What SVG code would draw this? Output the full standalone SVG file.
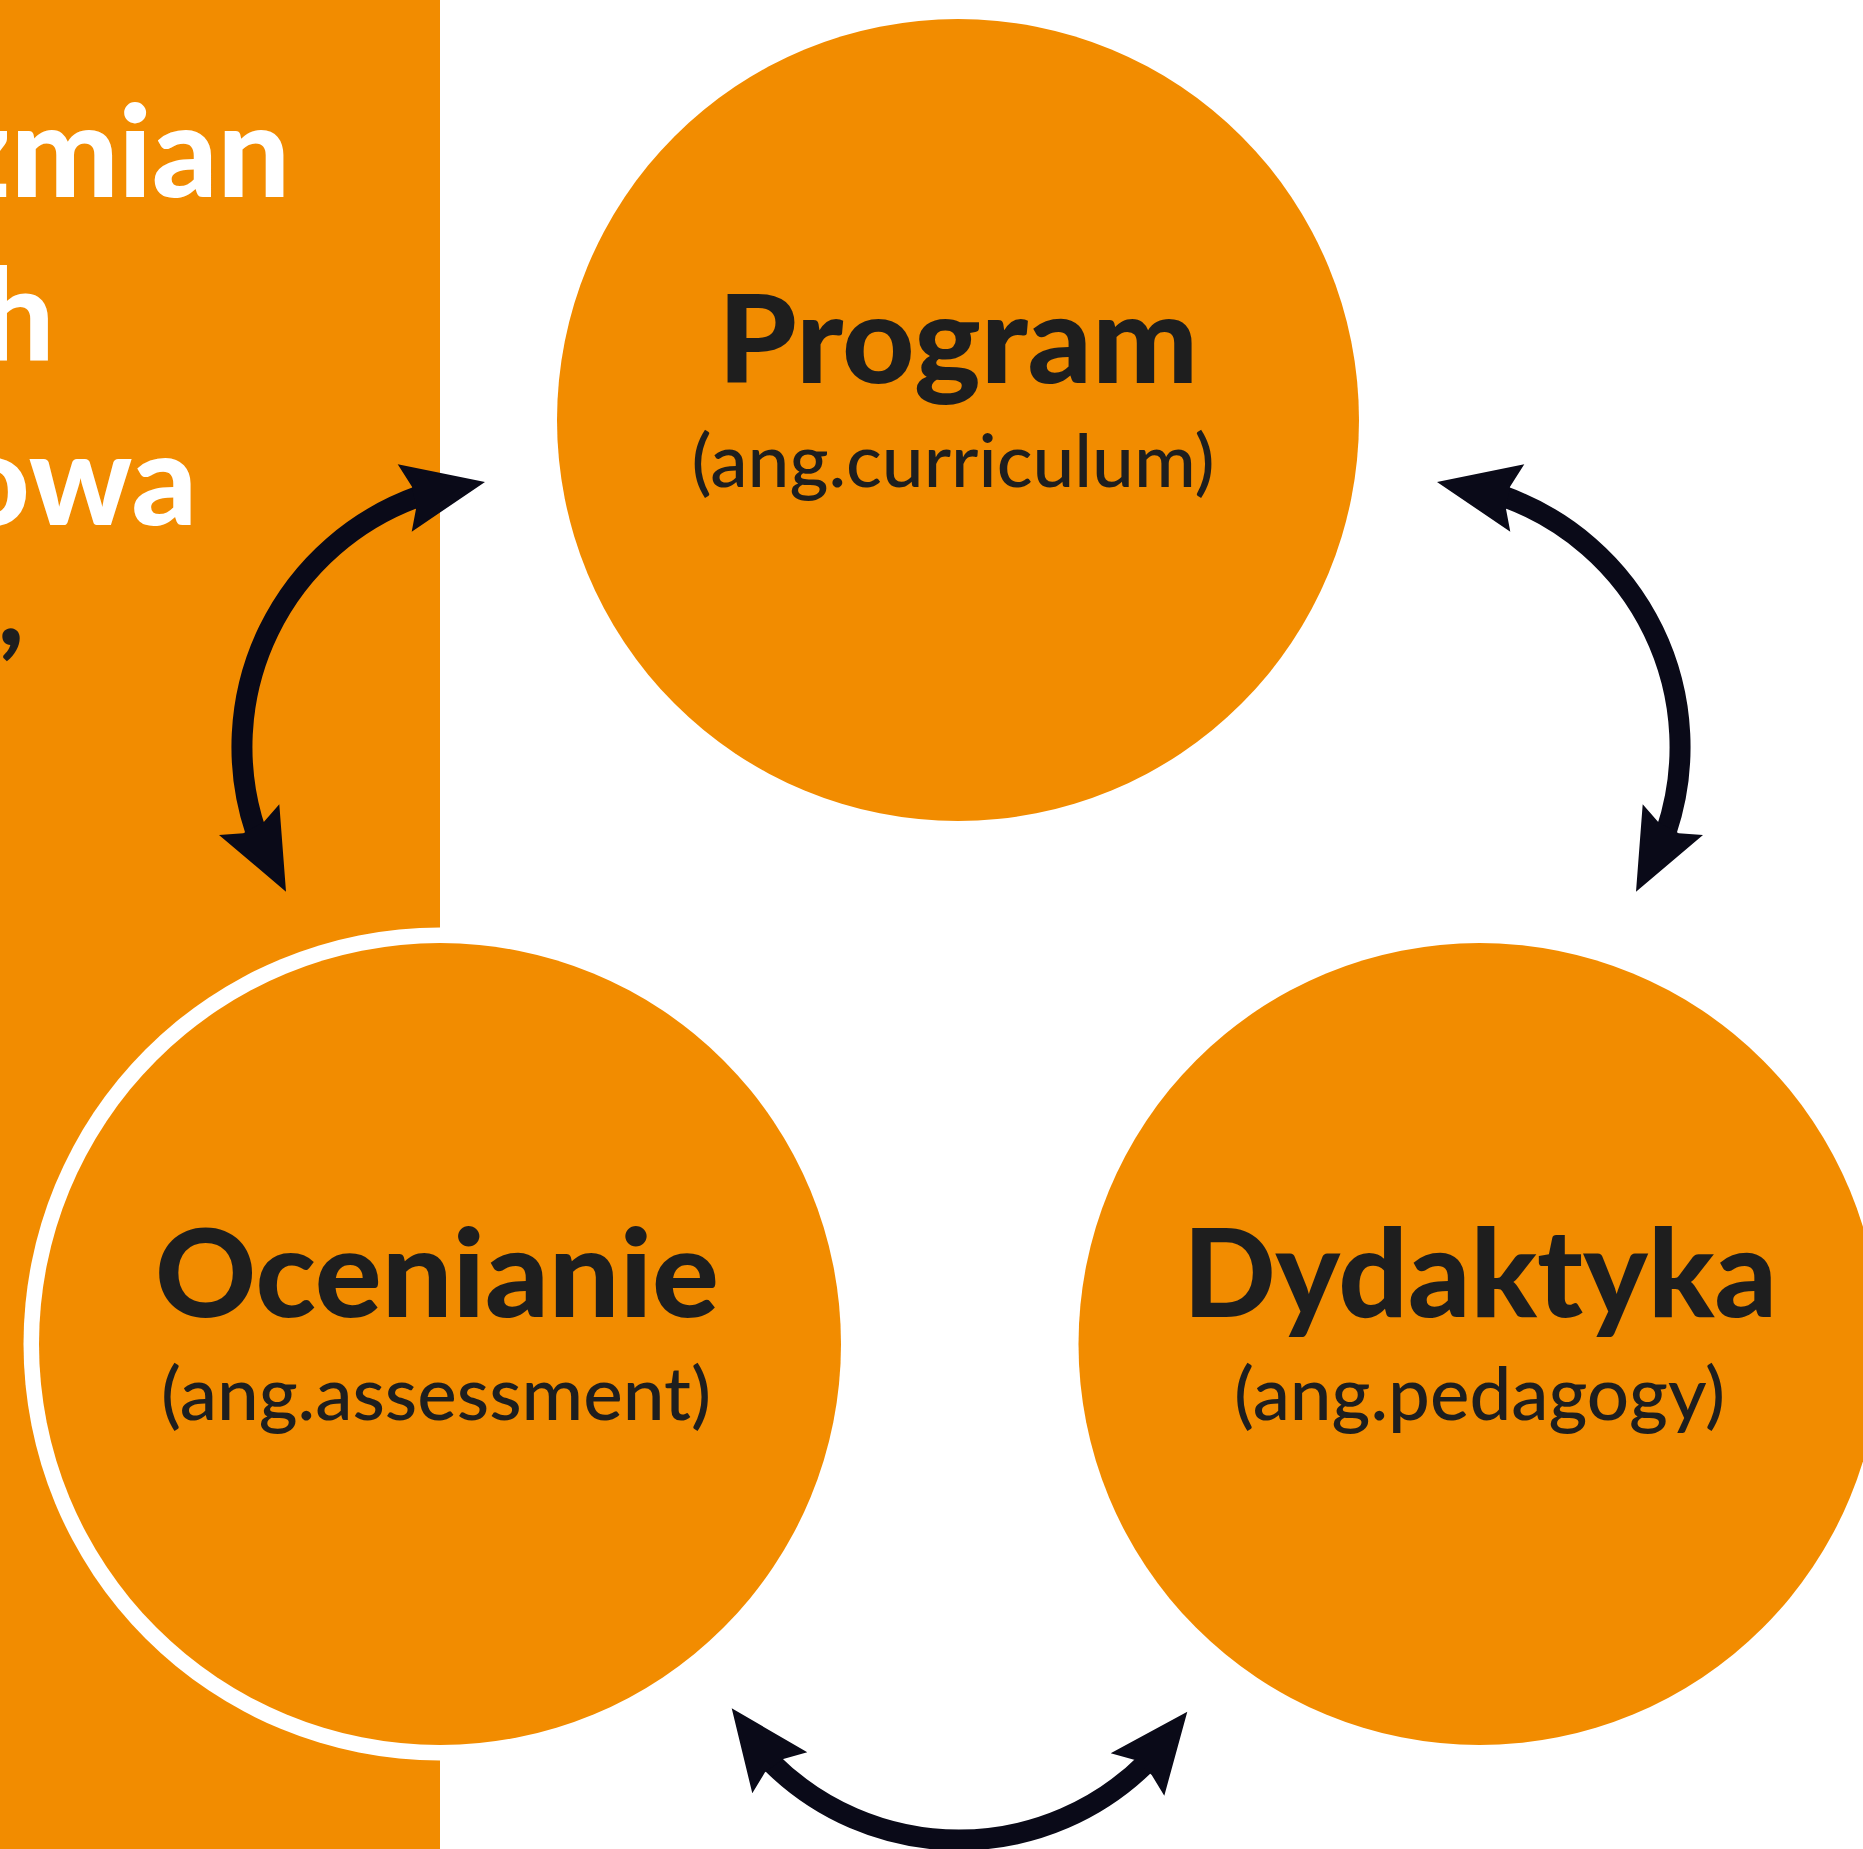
<svg xmlns="http://www.w3.org/2000/svg" width="1863" height="1849" viewBox="0 0 1863 1849">
<style>
.bg{fill:#FFFFFF}
.band{fill:#F28C00}
.node{fill:#F28C00}
.ring{fill:#FFFFFF}
.title{font-family:Lato,"Liberation Sans",sans-serif;font-weight:900;font-size:122px;fill:#1E1E1E;text-anchor:middle}
.sub{font-family:Lato,"Liberation Sans",sans-serif;font-weight:500;font-size:73px;fill:#1E1E1E;text-anchor:middle}
.side{font-family:Lato,"Liberation Sans",sans-serif;font-weight:900;font-size:128px;fill:#FFFFFF}
.mark{font-family:Lato,"Liberation Sans",sans-serif;font-weight:900;font-size:110px;fill:#1E1E1E}
.shaft{fill:none;stroke:#0A0A18;stroke-width:21}
.head{fill:#0A0A18}
</style>
<rect class="bg" x="0" y="0" width="1863" height="1849"/>
<g id="side-panel">
<rect class="band" x="0" y="0" width="440" height="1849"/>
<text class="side" x="290" y="197" text-anchor="end">zmian</text>
<text class="side" x="-18" y="360">h</text>
<text class="side" x="197" y="525" text-anchor="end">owa</text>
<text class="mark" x="-2" y="645">,</text>
</g>
<g id="node-program">
<circle class="node" cx="958" cy="420" r="401"/>
<text class="title" x="958" y="383" textLength="480" lengthAdjust="spacingAndGlyphs">Program</text>
<text class="sub" x="953" y="487" textLength="523" lengthAdjust="spacingAndGlyphs">(ang.curriculum)</text>
</g>
<g id="node-ocenianie">
<circle class="ring" cx="440" cy="1344" r="416.5"/>
<circle class="node" cx="440" cy="1344" r="401"/>
<text class="title" x="437" y="1317" textLength="564" lengthAdjust="spacingAndGlyphs">Ocenianie</text>
<text class="sub" x="436" y="1420" textLength="550" lengthAdjust="spacingAndGlyphs">(ang.assessment)</text>
</g>
<g id="node-dydaktyka">
<circle class="node" cx="1479.5" cy="1344" r="401"/>
<text class="title" x="1480" y="1317" textLength="594" lengthAdjust="spacingAndGlyphs">Dydaktyka</text>
<text class="sub" x="1479.5" y="1420" textLength="491" lengthAdjust="spacingAndGlyphs">(ang.pedagogy)</text>
</g>
<g id="connectors">
<path class="shaft" d="M 418.4 496.5 A 266 266 0 0 0 255.8 831.7"/>
<polygon class="head" points="485,482 397.7,464.3 412,486.7 416,509 411.7,531.7"/>
<polygon class="head" points="286,891.7 219,835 243.3,833.3 264,821.7 279.3,804.3"/>
<path class="shaft" d="M 1503.6 496.5 A 266 266 0 0 1 1666.2 831.7"/>
<polygon class="head" points="1437,482 1524.3,464.3 1510,486.7 1506,509 1510.3,531.7"/>
<polygon class="head" points="1636,891.7 1703,835 1678.7,833.3 1658,821.7 1642.7,804.3"/>
<path class="shaft" d="M 770.9 1762.1 A 266 266 0 0 0 1147.1 1762.1"/>
<polygon class="head" points="731.7,1708.3 807.3,1752.3 783.3,1759 765,1772.3 752.3,1793.3"/>
<polygon class="head" points="1187.3,1711.7 1110.7,1753.3 1135,1760 1151.7,1775 1164.3,1795.7"/>
</g>
</svg>
